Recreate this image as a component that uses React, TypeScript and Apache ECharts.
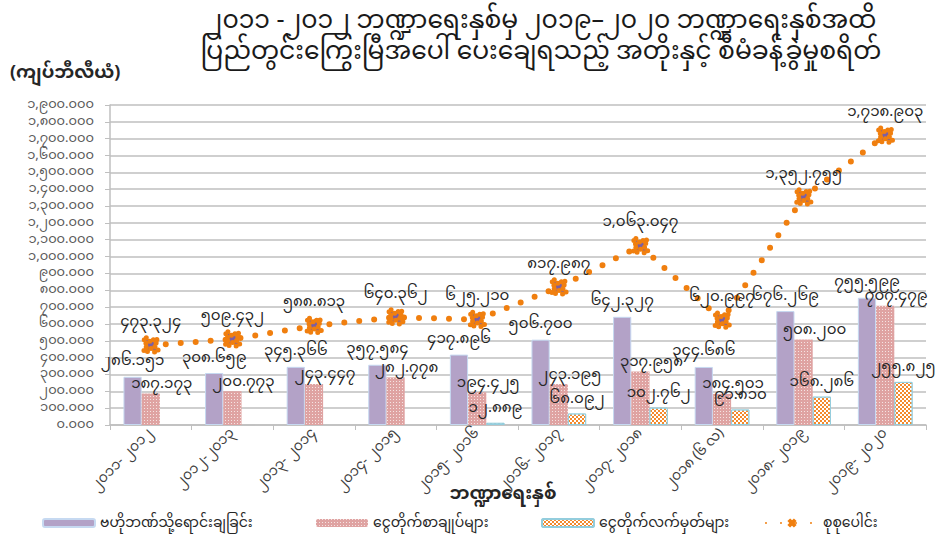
import React, { useEffect, useRef } from "react";
import * as echarts from "echarts";

const categories = [
  "၂၀၁၁- ၂၀၁၂",
  "၂၀၁၂-၂၀၁၃",
  "၂၀၁၃- ၂၀၁၄",
  "၂၀၁၄- ၂၀၁၅",
  "၂၀၁၅- ၂၀၁၆",
  "၂၀၁၆- ၂၀၁၇",
  "၂၀၁၇- ၂၀၁၈",
  "၂၀၁၈ (၆ လ)",
  "၂၀၁၈- ၂၀၁၉",
  "၂၀၁၉- ၂၀၂၀",
];
const centralBankSales = [286.151, 308.659, 345.366, 357.584, 417.896, 506.7, 642.327, 344.686, 676.269, 755.599];
const treasuryBonds = [187.173, 200.773, 243.447, 282.778, 194.425, 243.195, 317.958, 184.501, 508.2, 707.479];
const treasuryBills = [null, null, null, null, 12.889, 68.092, 102.762, 91.81, 168.286, 255.825];
const totals = [473.324, 509.432, 588.813, 640.362, 625.21, 817.987, 1063.047, 620.997, 1352.755, 1718.903];

const seriesNames = [
  "ဗဟိုဘဏ်သို့ရောင်းချခြင်း",
  "ငွေတိုက်စာချုပ်များ",
  "ငွေတိုက်လက်မှတ်များ",
  "စုစုပေါင်း",
];
const titleLines = [
  "၂၀၁၁ -၂၀၁၂ ဘဏ္ဍာရေးနှစ်မှ ၂၀၁၉–၂၀၂၀ ဘဏ္ဍာရေးနှစ်အထိ",
  "ပြည်တွင်းကြွေးမြီအပေါ် ပေးချေရသည့် အတိုးနှင့် စီမံခန့်ခွဲမှုစရိတ်",
];
const yUnit = "(ကျပ်ဘီလီယံ)";
const xName = "ဘဏ္ဍာရေးနှစ်";
const yMin = 0;
const yMax = 1900;
const yStep = 100;

const MY_DIGITS = ["၀", "၁", "၂", "၃", "၄", "၅", "၆", "၇", "၈", "၉"];
function toMy(v: number): string {
  const s = v.toLocaleString("en-US", { minimumFractionDigits: 3, maximumFractionDigits: 3 });
  return s.replace(/[0-9]/g, (d) => MY_DIGITS[Number(d)]);
}

const FONT = "'Noto Sans Myanmar', 'Padauk', 'Myanmar Text', 'Noto Sans', sans-serif";

export default function App() {
  const ref = useRef<HTMLDivElement>(null);
  useEffect(() => {
    if (!ref.current) return;
    const chart = echarts.init(ref.current, undefined, { renderer: "svg" });
    const labelStyle = {
      show: true,
      position: "top" as const,
      fontSize: 15,
      lineHeight: 16,
      color: "#262626",
      fontFamily: FONT,
      formatter: (p: any) => (p.value == null ? "" : toMy(p.value)),
    };
    const legendText = { fontSize: 14, lineHeight: 16, color: "#262626", fontFamily: FONT };
    const titleStyle = { fontSize: 25, fontWeight: "normal", color: "#1a1a1a", lineHeight: 27, fontFamily: FONT };
    const option: any = {
      animation: false,
      backgroundColor: "#ffffff",
      textStyle: { fontFamily: FONT },
      title: [
        { text: titleLines[0], left: 541, textAlign: "center", top: 9, padding: 0, textStyle: titleStyle },
        { text: titleLines[1], left: 541, textAlign: "center", top: 40, padding: 0, textStyle: titleStyle },
        {
          text: yUnit,
          left: 10,
          top: 63,
          padding: 0,
          textStyle: { fontSize: 18, lineHeight: 20, fontWeight: "bold", color: "#262626", fontFamily: FONT },
        },
        {
          text: xName,
          left: 503,
          textAlign: "center",
          top: 484,
          padding: 0,
          textStyle: { fontSize: 18, lineHeight: 20, fontWeight: "bold", color: "#262626", fontFamily: FONT },
        },
      ],
      legend: [0, 1, 2, 3].map((i) => ({
        data: [seriesNames[i]],
        left: [42, 316, 541, 765][i],
        top: 515,
        padding: 0,
        itemWidth: 52,
        itemHeight: 8,
        textStyle: legendText,
        selectedMode: false,
      })),
      grid: { left: 110, right: 14, top: 105, bottom: 112, containLabel: false },
      xAxis: {
        type: "category",
        data: categories,
        axisLine: { lineStyle: { color: "#BFBFBF", width: 1.5 } },
        axisTick: { show: true, length: 5, lineStyle: { color: "#BFBFBF" } },
        axisLabel: { rotate: 45, fontSize: 14, lineHeight: 16, color: "#404040", margin: 6, fontFamily: FONT },
      },
      yAxis: {
        type: "value",
        min: yMin,
        max: yMax,
        interval: yStep,
        axisLine: { show: true, lineStyle: { color: "#BFBFBF", width: 1.5 } },
        axisTick: { show: true, length: 5, lineStyle: { color: "#BFBFBF" } },
        splitLine: { lineStyle: { color: "#BFBFBF", width: 1.5 } },
        axisLabel: {
          fontSize: 13,
          lineHeight: 14,
          color: "#595959",
          margin: 16,
          fontFamily: FONT,
          formatter: (v: number) => toMy(v),
        },
      },
      series: [
        {
          name: seriesNames[0],
          type: "bar",
          data: centralBankSales,
          barGap: "0%",
          barCategoryGap: "33%",
          itemStyle: { color: "#B3A2C7", borderColor: "#C6D9F1", borderWidth: 1 },
          label: { ...labelStyle, distance: 7 },
        },
        {
          name: seriesNames[1],
          type: "bar",
          data: treasuryBonds,
          itemStyle: {
            color: "#DFA3A2",
            decal: { symbol: "rect", symbolSize: 1, color: "rgba(255,255,255,0.7)", dashArrayX: [1, 2], dashArrayY: [1, 2], rotation: 0 },
          },
          label: { ...labelStyle, distance: 1, offset: [11, 0] },
        },
        {
          name: seriesNames[2],
          type: "bar",
          data: treasuryBills,
          itemStyle: {
            color: "#F48A2C",
            borderColor: "#93CDDD",
            borderWidth: 1,
            decal: { symbol: "rect", symbolSize: 1, color: "#ffffff", dashArrayX: [[2, 2], [0, 2, 2, 0]], dashArrayY: [2, 0], rotation: 0 },
          },
          label: { ...labelStyle, distance: 6 },
        },
        {
          name: seriesNames[3],
          type: "line",
          data: totals,
          symbol: "path://M2,0 L5,3 L8,0 L10,2 L7,5 L10,8 L8,10 L5,7 L2,10 L0,8 L3,5 L0,2 Z",
          symbolSize: 15,
          itemStyle: { color: "#7A5FA6", borderColor: "#F07F0F", borderWidth: 5, borderType: [0, 5], borderCap: "round" },
          lineStyle: { color: "#F07F0F", width: 6, type: [0, 15], cap: "round" },
          label: { ...labelStyle, distance: 5 },
          z: 5,
        },
      ],
    };
    chart.setOption(option);
    return () => chart.dispose();
  }, []);
  return <div ref={ref} style={{ position: "fixed", left: 0, top: 0, width: 940, height: 537 }} />;
}
